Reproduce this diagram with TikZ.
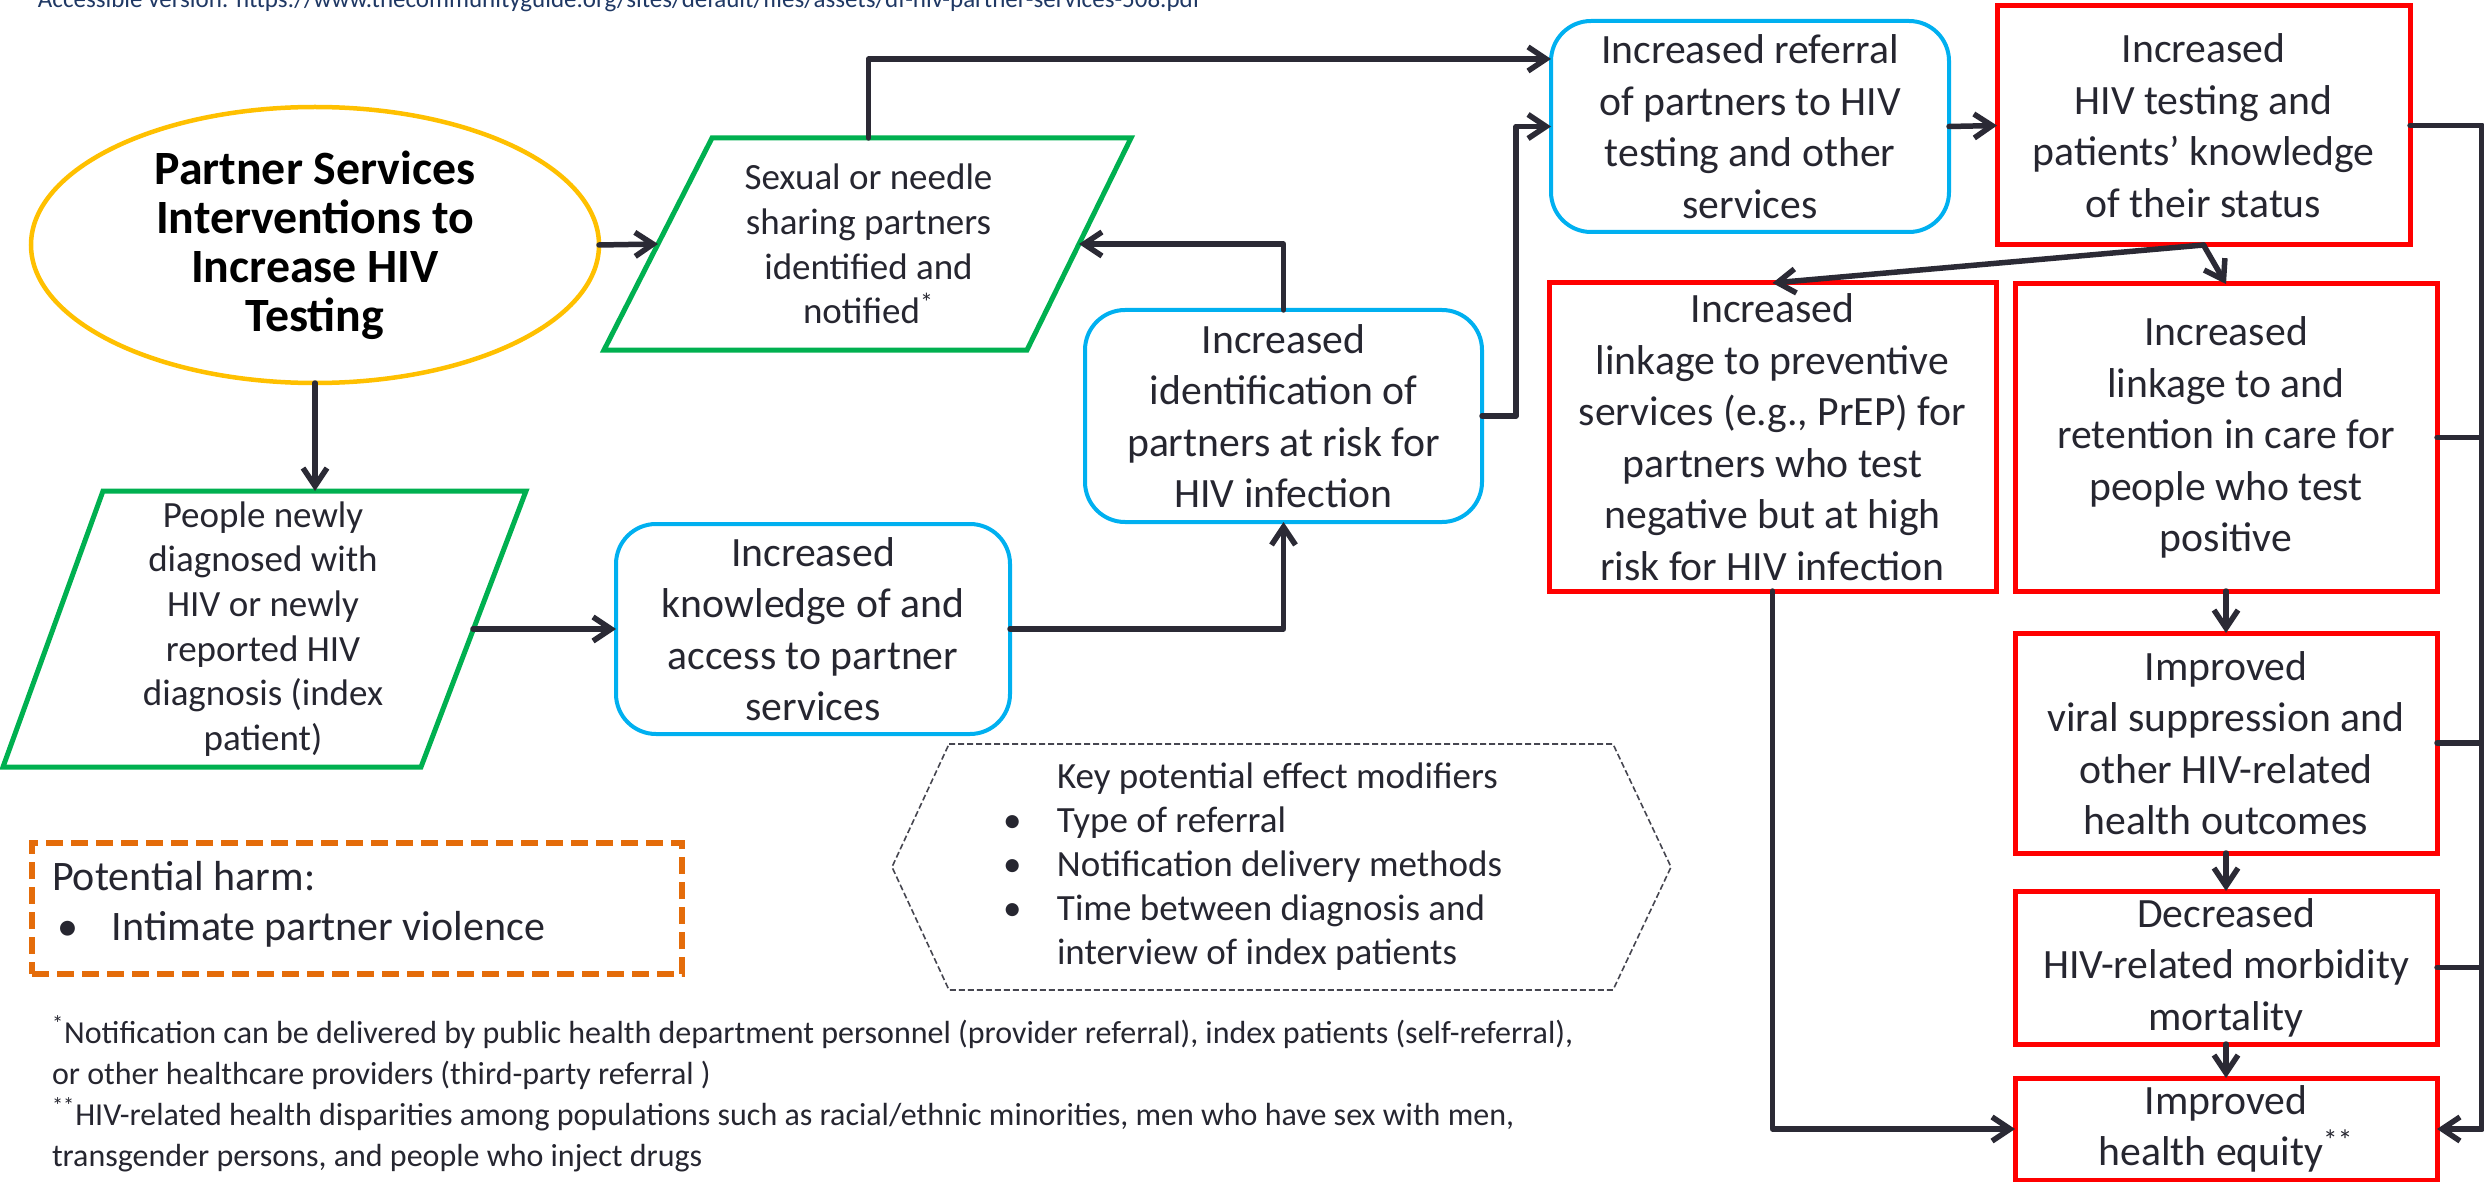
\documentclass[tikz,border=0pt]{standalone}
\usepackage{fontspec}
\setmainfont{Carlito}
\usetikzlibrary{arrows.meta,calc,shapes.geometric}
\definecolor{ink}{RGB}{38,38,48}
\definecolor{arrowc}{RGB}{43,42,53}
\definecolor{gold}{RGB}{255,192,0}
\definecolor{grn}{RGB}{0,176,80}
\definecolor{blu}{RGB}{0,176,240}
\definecolor{rd}{RGB}{255,0,0}
\definecolor{orng}{RGB}{228,108,10}
\definecolor{navy}{RGB}{31,56,100}
\definecolor{hexc}{RGB}{70,70,80}
\newcommand\hexbul{\makebox[27pt][l]{•}}
\newcommand\hexind{\makebox[27pt][l]{}}
\begin{document}
\begin{tikzpicture}[x=0.5pt,y=-0.5pt,
  every node/.style={inner sep=0pt, outer sep=0pt, text=ink},
  conn/.style={draw=arrowc, line width=2.75pt, line cap=round, line join=round},
  arr/.style={conn, -{Straight Barb[length=9pt,width=12pt]}},
  bigtxt/.style={font=\fontsize{20.85pt}{25.75pt}\selectfont, align=center},
  smtxt/.style={font=\fontsize{18.5pt}{22.3pt}\selectfont, align=center},
  bluebox/.style={bigtxt, rectangle, draw=blu, line width=2pt, rounded corners=20pt},
  redbox/.style={bigtxt, rectangle, draw=rd, line width=2.5pt},
  slantbox/.style={smtxt, rectangle},
  grnline/.style={draw=grn, line width=2.5pt, line join=miter},
  hexline/.style={draw=hexc, line width=0.8pt, dash pattern=on 3pt off 1.5pt},
  harmline/.style={draw=orng, line width=3pt, dash pattern=on 8.5pt off 4pt},
]
\useasboundingbox (0,0) rectangle (2484,1182);

% top url (cut off at the page edge, as in the reference)
\node[anchor=base west, text=navy, font=\fontsize{12.5pt}{14pt}\selectfont] (url) at (38,8)
  {Accessible version: https://www.thecommunityguide.org/sites/default/files/assets/df-hiv-partner-services-508.pdf};

% nodes
\node[ellipse, draw=gold, line width=2.25pt, minimum width=284pt, minimum height=138pt,
  font=\bfseries\fontsize{23.9pt}{24.5pt}\selectfont, align=center, text=black] (ell) at (315,245)
  {Partner Services\\Interventions to\\Increase HIV\\Testing};

\node[slantbox, minimum width=210.5pt, minimum height=106pt] (sex) at (868.5,244)
  {Sexual or needle\\sharing partners\\identified and\\notified\textsuperscript{*}};
\draw[grnline] ($(sex.north west)+(54,0)$) -- ($(sex.north east)+(52,0)$) -- ($(sex.south east)+(-52,0)$) -- ($(sex.south west)+(-54,0)$) -- cycle;

\node[slantbox, minimum width=210pt, minimum height=138pt] (ppl) at (263,629)
  {People newly\\diagnosed with\\HIV or newly\\reported HIV\\diagnosis (index\\patient)};
\draw[grnline] ($(ppl.north west)+(50,0)$) -- ($(ppl.north east)+(53,0)$) -- ($(ppl.south east)+(-52,0)$) -- ($(ppl.south west)+(-50,0)$) -- cycle;

\node[bluebox, minimum width=197pt, minimum height=105pt] (kn) at (813,629)
  {Increased\\knowledge of and\\access to partner\\services};
\node[bluebox, minimum width=198.5pt, minimum height=106pt] (ident) at (1283.5,416)
  {Increased\\identification of\\partners at risk for\\HIV infection};
\node[bluebox, minimum width=199pt, minimum height=105.5pt] (ref) at (1750,126.5)
  {Increased referral\\of partners to HIV\\testing and other\\services};

\node[redbox, minimum width=206.5pt, minimum height=119.5pt] (test) at (2203.5,125.5)
  {Increased\\HIV testing and\\patients’ knowledge\\of their status};
\node[redbox, minimum width=223.5pt, minimum height=154pt] (prev) at (1772.5,437)
  {Increased\\linkage to preventive\\services (e.g., PrEP) for\\partners who test\\negative but at high\\risk for HIV infection};
\node[redbox, minimum width=211pt, minimum height=153.5pt] (link) at (2226,437.5)
  {Increased\\linkage to and\\retention in care for\\people who test\\positive};
\node[redbox, minimum width=211pt, minimum height=110pt] (viral) at (2226,743)
  {Improved\\viral suppression and\\other HIV-related\\health outcomes};
\node[redbox, minimum width=211pt, minimum height=76.5pt] (decr) at (2226,967.5)
  {Decreased\\HIV-related morbidity\\mortality};
\node[redbox, minimum width=211pt, minimum height=51pt] (equity) at (2226,1129)
  {Improved\\health equity\textsuperscript{**}};

% hexagon of effect modifiers
\node[rectangle, minimum width=332pt, minimum height=123pt] (hex) at (1281,867) {};
\draw[hexline] (hex.north west) -- (hex.north east) -- ($(hex.east)+(58,0)$) -- (hex.south east)
  -- (hex.south west) -- ($(hex.west)+(-57,0)$) -- cycle;
\node[anchor=west, align=left, font=\fontsize{18.5pt}{22pt}\selectfont] (mods) at (1003,867)
  {\hexind Key potential effect modifiers\\\hexbul Type of referral\\\hexbul Notification delivery methods\\\hexbul Time between diagnosis and\\\hexind interview of index patients};

% potential harm
\node[rectangle, harmline, minimum width=325pt, minimum height=65.5pt] (harm) at (357,908.5) {};
\node[anchor=west, align=left, font=\fontsize{21pt}{25pt}\selectfont] (harmtext) at (52,904)
  {Potential harm:\\\hspace{2.5pt}\makebox[27.5pt][l]{•}Intimate partner violence};

% footnotes
\node[anchor=west, align=left, font=\fontsize{16pt}{20.5pt}\selectfont] (notes) at (52,1094)
  {\textsuperscript{*}Notification can be delivered by public health department personnel (provider referral), index patients (self-referral),\\
   or other healthcare providers (third-party referral )\\
   \textsuperscript{**}HIV-related health disparities among populations such as racial/ethnic minorities, men who have sex with men,\\
   transgender persons, and people who inject drugs};

% connectors
\coordinate (bus) at (2482,124);
\draw[arr] (ell.east) -- (sex.west);
\draw[arr] (ell.south) -- (ell.south |- ppl.north);
\draw[arr] (ppl.east) -- (kn.west);
\draw[arr] (kn.east) -| (ident.south);
\draw[arr] (ident.north) |- (sex.east);
\draw[arr] (sex.north) |- ($(ref.north west)!0.18!(ref.south west)$);
\draw[arr] (ident.east) -- ++(34,0) |- (ref.west);
\draw[arr] (ref.east) -- (test.west);
\draw[arr] (test.south) -- (prev.north);
\draw[arr] (test.south) -- (link.north);
\draw[arr] (link.south) -- (viral.north);
\draw[arr] (viral.south) -- (decr.north);
\draw[arr] (decr.south) -- (equity.north);
\draw[arr] (prev.south) |- (equity.west);
\draw[arr] (test.east) -- (bus |- test.east) |- (equity.east);
\draw[conn] (link.east) -- (bus |- link.east);
\draw[conn] (viral.east) -- (bus |- viral.east);
\draw[conn] (decr.east) -- (bus |- decr.east);
\end{tikzpicture}
\end{document}
